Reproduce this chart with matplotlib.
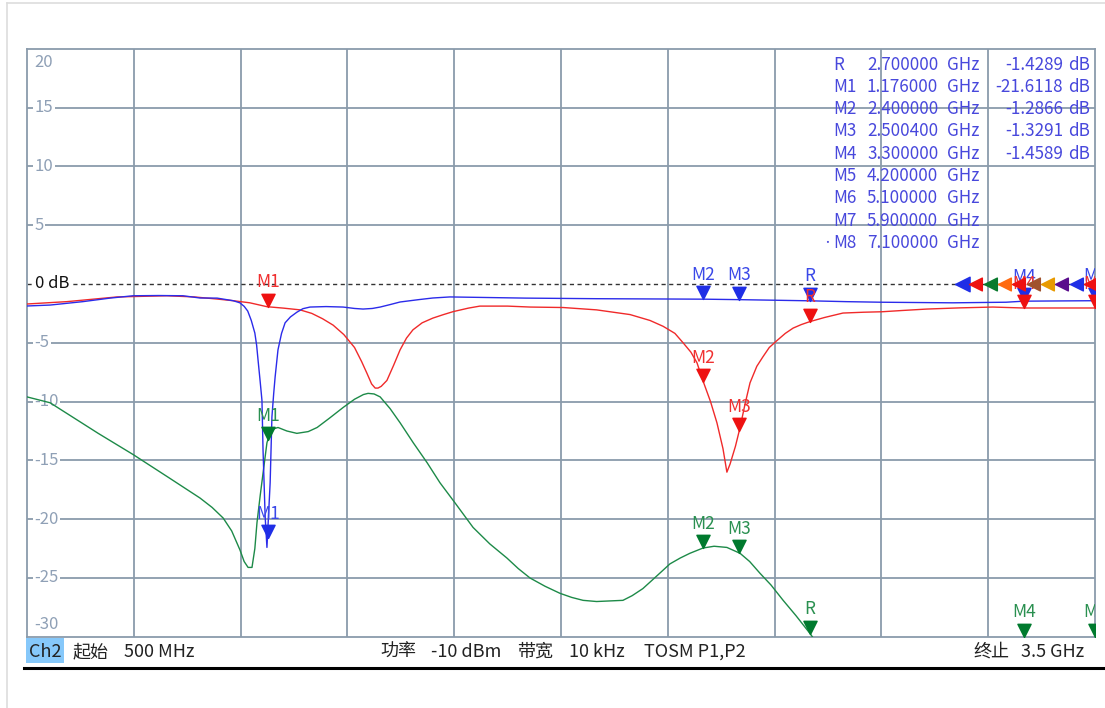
import numpy as np
import matplotlib
matplotlib.use('Agg')
import matplotlib.pyplot as plt
from matplotlib.path import Path

plt.rcParams['font.family'] = ['Noto Sans CJK SC', 'DejaVu Sans']

# ---------------- data ----------------
blue_f = [0.500, 0.565, 0.657, 0.733, 0.798, 0.870, 0.938, 0.986, 1.034, 1.079, 1.098, 1.110,
          1.120, 1.130, 1.140, 1.145, 1.149, 1.155, 1.160, 1.163, 1.169, 1.174, 1.183, 1.188,
          1.193, 1.197, 1.205, 1.215, 1.225, 1.240, 1.258, 1.275, 1.295, 1.340, 1.388, 1.420,
          1.444, 1.470, 1.492, 1.520, 1.548, 1.600, 1.640, 1.688, 1.900, 2.100, 2.400, 2.500,
          2.600, 2.700, 2.800, 2.900, 3.100, 3.250, 3.300, 3.500]
blue_db = [-1.87, -1.79, -1.50, -1.20, -1.00, -0.98, -1.00, -1.19, -1.20, -1.42, -1.60, -1.90,
           -2.30, -3.10, -4.17, -5.20, -6.46, -8.30, -9.90, -14.1, -19.8, -22.4, -16.9, -11.3,
           -9.30, -7.90, -5.60, -4.20, -3.30, -2.80, -2.40, -2.10, -1.96, -1.92, -1.96, -2.08,
           -2.13, -2.08, -1.96, -1.75, -1.53, -1.33, -1.19, -1.10, -1.20, -1.25, -1.29, -1.33,
           -1.38, -1.43, -1.50, -1.55, -1.60, -1.55, -1.46, -1.42]

red_f = [0.500, 0.612, 0.753, 0.893, 0.970, 1.034, 1.079, 1.126, 1.174, 1.220, 1.267, 1.300,
         1.330, 1.360, 1.390, 1.420, 1.440, 1.455, 1.468, 1.478, 1.486, 1.495, 1.511, 1.530,
         1.548, 1.566, 1.584, 1.610, 1.640, 1.670, 1.697, 1.740, 1.772, 1.850, 1.913, 2.006,
         2.100, 2.194, 2.250, 2.287, 2.320, 2.343, 2.365, 2.382, 2.399, 2.420, 2.438, 2.455,
         2.466, 2.475, 2.490, 2.503, 2.517, 2.531, 2.550, 2.567, 2.585, 2.607, 2.630, 2.652,
         2.675, 2.699, 2.740, 2.792, 2.850, 2.902, 2.960, 3.028, 3.120, 3.213, 3.298, 3.500]
red_db = [-1.70, -1.50, -1.10, -1.00, -1.10, -1.28, -1.42, -1.60, -1.93, -2.05, -2.20, -2.50,
          -2.95, -3.50, -4.30, -5.40, -6.60, -7.60, -8.50, -8.85, -8.85, -8.70, -8.20, -6.90,
          -5.60, -4.60, -3.90, -3.30, -2.90, -2.60, -2.35, -2.05, -1.88, -1.88, -1.96, -2.00,
          -2.20, -2.60, -3.10, -3.60, -4.20, -5.00, -5.80, -6.70, -8.25, -10.0, -11.8, -14.0,
          -16.0, -15.3, -13.8, -12.2, -10.2, -8.40, -7.00, -6.20, -5.40, -4.80, -4.20, -3.75,
          -3.45, -3.20, -2.85, -2.47, -2.40, -2.36, -2.25, -2.13, -2.03, -1.96, -2.04, -2.04]

green_f = [0.500, 0.565, 0.700, 0.798, 0.900, 0.986, 1.020, 1.051, 1.075, 1.098, 1.110, 1.121,
           1.132, 1.140, 1.146, 1.155, 1.163, 1.174, 1.185, 1.205, 1.230, 1.258, 1.290, 1.315,
           1.350, 1.388, 1.420, 1.445, 1.458, 1.475, 1.492, 1.520, 1.548, 1.585, 1.624, 1.660,
           1.702, 1.753, 1.800, 1.848, 1.880, 1.913, 1.955, 1.997, 2.030, 2.062, 2.100, 2.174,
           2.200, 2.230, 2.270, 2.306, 2.335, 2.362, 2.399, 2.430, 2.466, 2.503, 2.530, 2.559,
           2.590, 2.624, 2.660, 2.699, 2.730]
green_db = [-9.6, -10.1, -12.7, -14.5, -16.5, -18.2, -19.0, -19.9, -21.0, -22.6, -23.6, -24.1,
            -24.1, -22.5, -20.3, -18.0, -16.1, -13.5, -12.4, -12.2, -12.5, -12.7, -12.55, -12.2,
            -11.4, -10.5, -9.8, -9.4, -9.3, -9.35, -9.6, -10.6, -11.8, -13.5, -15.2, -16.9,
            -18.6, -20.7, -22.1, -23.3, -24.2, -25.0, -25.7, -26.3, -26.65, -26.9, -27.0, -26.9,
            -26.5, -25.9, -24.8, -23.8, -23.3, -22.9, -22.45, -22.3, -22.4, -22.9, -23.6, -24.6,
            -25.6, -26.9, -28.2, -29.7, -31.0]

marker_names = ['M1', 'M2', 'M3', 'R', 'M4', 'M5']
marker_freqs = [1.176, 2.400, 2.5004, 2.700, 3.300, 3.500]
blue_marker_db = [-21.6118, -1.2866, -1.3291, -1.4289, -1.4589, -1.42]

table_names = ['R', 'M1', 'M2', 'M3', 'M4', 'M5', 'M6', 'M7', 'M8']
table_freqs = ['2.700000', '1.176000', '2.400000', '2.500400', '3.300000',
               '4.200000', '5.100000', '5.900000', '7.100000']
table_vals = ['-1.4289', '-21.6118', '-1.2866', '-1.3291', '-1.4589', '', '', '', '']

y_ticks = [20, 15, 10, 5, 0, -5, -10, -15, -20, -25, -30]
y_labels = ['20', '15', '10', '5', '0 dB', '-5', '-10', '-15', '-20', '-25', '-30']

indicator_colors = ['#1f2ee6', '#ee1111', '#0a7a2e', '#ff6a10', '#ee1111', '#a0522d',
                    '#e89a00', '#5a0c8c', '#1f2ee6', '#ee1111']

status_items = [('起始', 73), ('500 MHz', 124), ('功率', 380), ('-10 dBm', 431),
                ('带宽', 517), ('10 kHz', 569), ('TOSM P1,P2', 644), ('终止', 973),
                ('3.5 GHz', 1021)]

# ---------------- figure ----------------
W, H = 1105, 708
fig = plt.figure(figsize=(W / 100, H / 100), dpi=100)
fig.patch.set_facecolor('white')

def px(x, y):
    return x / W, 1 - y / H

GRID = '#8a9bab'
LAB = '#8fa0b6'
BLUE, RED, GREEN = '#2b2bea', '#f02a2a', '#1d8a48'
MBLUE, MRED, MGREEN = '#1f2ee6', '#ee1111', '#007a2e'
TBLUE = '#4848dc'

# outer light frame
fig.add_artist(plt.Line2D([7 / W, 7 / W], [0, 1 - 3 / H], transform=fig.transFigure,
                          color='#dddddd', lw=1.2))
fig.add_artist(plt.Line2D([7 / W, 1], [1 - 3 / H, 1 - 3 / H], transform=fig.transFigure,
                          color='#dddddd', lw=1.2))

ax = fig.add_axes([27 / W, (H - 636.8) / H, 1068 / W, 588 / H])
ax.set_xlim(0.5, 3.5)
ax.set_ylim(-30, 20)
ax.set_xticks([])
ax.set_yticks([])
for s in ax.spines.values():
    s.set_color(GRID)
    s.set_linewidth(1.3)

for k in range(1, 10):
    ax.axvline(0.5 + 0.3 * k, color=GRID, lw=1.3, zorder=1)
for v in y_ticks[1:-1]:
    if v != 0:
        ax.axhline(v, color=GRID, lw=1.3, zorder=1)
ax.axhline(0, color='#333333', lw=1.0, ls=(0, (3, 2.5)), zorder=2)

# y labels
tr = ax.get_yaxis_transform()
for v, lab in zip(y_ticks, y_labels):
    col = '#111111' if v == 0 else LAB
    if v == 20:
        off, va = -4, 'top'
    elif v == -30:
        off, va = 3, 'bottom'
    else:
        off, va = 0, 'center'
    ax.annotate(lab, xy=(0, v), xycoords=tr, xytext=(5.5, off), textcoords='offset points',
                ha='left', va=va, fontsize=12, color=col, zorder=2.5,
                bbox=dict(facecolor='white', edgecolor='none', pad=1.0))

# traces
ax.plot(red_f, red_db, color=RED, lw=1.0, zorder=3)
ax.plot(blue_f, blue_db, color=BLUE, lw=1.0, zorder=3.1)
ax.plot(green_f, green_db, color=GREEN, lw=1.0, zorder=3)

tri_down = Path([(0, 0), (-0.5, 1), (0.5, 1), (0, 0)],
                [Path.MOVETO, Path.LINETO, Path.LINETO, Path.CLOSEPOLY])
tri_left = Path([(0, 0), (1, 0.5), (1, -0.5), (0, 0)],
                [Path.MOVETO, Path.LINETO, Path.LINETO, Path.CLOSEPOLY])

red_marker_db = list(np.interp(marker_freqs, red_f, red_db))
green_marker_db = [max(-30.0, float(np.interp(f, green_f, green_db, right=-40))) for f in marker_freqs]

def draw_markers(vals, mcol, tcol, z):
    for name, f, v in zip(marker_names, marker_freqs, vals):
        ax.plot([f], [v], marker=tri_down, ms=19, color=mcol, mec=mcol, zorder=z,
                clip_on=True, ls='none')
        ax.annotate(name, xy=(f, v), xytext=(0, 17.5), textcoords='offset points',
                    ha='center', va='center', fontsize=12.5, color=tcol, zorder=z + 0.1,
                    annotation_clip=False, clip_on=True)

draw_markers(blue_marker_db, MBLUE, '#3a48e8', 5)
draw_markers(red_marker_db, MRED, '#f03030', 6)
draw_markers(green_marker_db, MGREEN, '#2a9050', 7)

# out-of-range marker indicators on the 0 dB line
ind_start, ind_step = 3.107, 0.0402
for k, c in enumerate(indicator_colors):
    ax.plot([ind_start + ind_step * k], [0], marker=tri_left, ms=21 if k == 0 else 18.5,
            color=c, mec=c, ls='none', zorder=8, clip_on=True)

# marker table
FS_T = 12.3
rows_y = [65, 87, 109, 131, 154, 176, 198, 221, 243]
for yy, n, fr, val in zip(rows_y, table_names, table_freqs, table_vals):
    fig.text(*px(833, yy), n, ha='left', va='center', fontsize=FS_T, color=TBLUE)
    fig.text(*px(867, yy), fr, ha='left', va='center', fontsize=FS_T, color=TBLUE)
    fig.text(*px(947, yy), 'GHz', ha='left', va='center', fontsize=FS_T, color=TBLUE)
    if val:
        fig.text(*px(1063, yy), val, ha='right', va='center', fontsize=FS_T, color=TBLUE)
        fig.text(*px(1068, yy), 'dB', ha='left', va='center', fontsize=FS_T, color=TBLUE)
fig.text(*px(827, 243), '•', ha='center', va='center', fontsize=7, color=TBLUE)

# status bar
fig.patches.append(plt.Rectangle(px(26, 663), 38 / W, 25 / H, transform=fig.transFigure,
                                 facecolor='#86c8fa', edgecolor='none'))
fig.text(*px(29, 652), 'Ch2', ha='left', va='center', fontsize=13, color='#222222')
for t, xx in status_items:
    fig.text(*px(xx, 652), t, ha='left', va='center', fontsize=13, color='#222222')
fig.add_artist(plt.Line2D([24 / W, 1], [1 - 667.5 / H, 1 - 667.5 / H], transform=fig.transFigure,
                          color='black', lw=2.2))

fig.savefig('out.png', dpi=100)
